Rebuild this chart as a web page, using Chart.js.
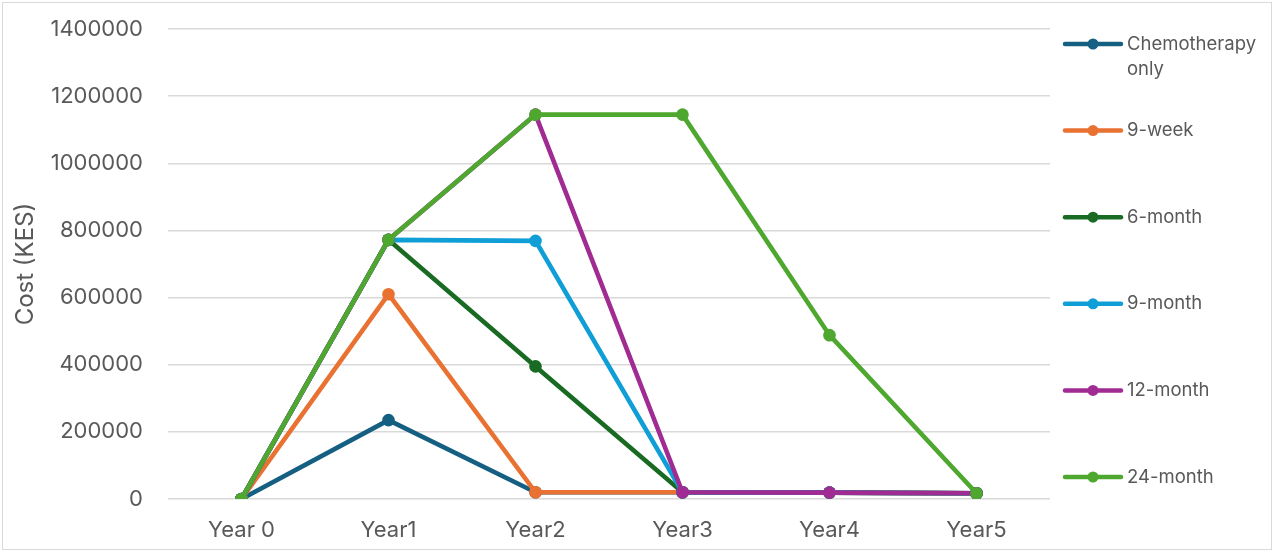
<!DOCTYPE html>
<html>
<head>
<meta charset="utf-8">
<script src="https://cdn.jsdelivr.net/npm/chart.js@4"></script>
<style>
  html, body { margin: 0; padding: 0; background: #fff; }
  #wrap { position: relative; width: 1280px; height: 559px; }
  #frame { position: absolute; left: 2px; top: 2px; width: 1268px; height: 546px; border: 1px solid #d9d9d9; pointer-events: none; }
</style>
</head>
<body>
<div id="wrap">
  <canvas id="c" width="1280" height="559"></canvas>
  <div id="frame"></div>
</div>
<script>
const categories = ["Year 0", "Year1", "Year2", "Year3", "Year4", "Year5"];
const seriesNames = ["Chemotherapy only", "9-week", "6-month", "9-month", "12-month", "24-month"];
const seriesColors = ["#156082", "#E97132", "#196B24", "#0F9ED5", "#A02B93", "#4EA72E"];
const chemoOnly = [0, 235000, 20000, 20000, 19000, 17000];
const nineWeek = [0, 610000, 20000, 20000, 19000, 17000];
const sixMonth = [0, 772000, 395000, 20000, 19000, 17000];
const nineMonth = [0, 772000, 769000, 20000, 19000, 17000];
const twelveMonth = [0, 772000, 1145000, 20000, 19000, 17000];
const twentyFourMonth = [0, 772000, 1145000, 1145000, 488000, 17000];
const seriesValues = [chemoOnly, nineWeek, sixMonth, nineMonth, twelveMonth, twentyFourMonth];
const yMin = 0, yMax = 1400000, yStep = 200000;

const FONT = "Inter, 'Open Sans', sans-serif";
const TEXT = "#595959";

const legendPlugin = {
  id: 'sideLegend',
  afterDraw(chart) {
    const ctx = chart.ctx;
    const ds = chart.data.datasets;
    const x0 = 1065, x1 = 1121, tx = 1127;
    const top = 44, gap = 86.6;
    ctx.save();
    ds.forEach((d, i) => {
      const y = top + i * gap;
      ctx.strokeStyle = d.borderColor;
      ctx.lineWidth = 4.5;
      ctx.lineCap = 'round';
      ctx.beginPath(); ctx.moveTo(x0, y); ctx.lineTo(x1, y); ctx.stroke();
      ctx.fillStyle = d.borderColor;
      ctx.beginPath(); ctx.arc((x0 + x1) / 2, y, 5.5, 0, Math.PI * 2); ctx.fill();
      ctx.fillStyle = TEXT;
      ctx.font = "18.5px " + FONT;
      ctx.textBaseline = 'middle';
      ctx.textAlign = 'left';
      const lines = d.label === "Chemotherapy only" ? ["Chemotherapy", "only"] : [d.label];
      lines.forEach((t, k) => ctx.fillText(t, tx, y + k * 25));
    });
    ctx.restore();
  }
};

new Chart(document.getElementById('c'), {
  type: 'line',
  data: {
    labels: categories,
    datasets: seriesValues.map((vals, i) => ({
      label: seriesNames[i],
      data: vals,
      borderColor: seriesColors[i],
      backgroundColor: seriesColors[i],
      pointBackgroundColor: seriesColors[i],
      pointBorderColor: seriesColors[i],
      borderWidth: 4.6,
      pointRadius: 6.3,
      pointBorderWidth: 0,
      tension: 0,
      order: seriesValues.length - i
    }))
  },
  options: {
    responsive: false,
    animation: false,
    devicePixelRatio: 1,
    layout: { padding: { left: 8, top: 29, right: 230, bottom: 14 } },
    plugins: { legend: { display: false }, tooltip: { enabled: false } },
    scales: {
      x: {
        offset: true,
        grid: { display: false, drawTicks: false },
        border: { display: false },
        ticks: { color: TEXT, font: { family: FONT, size: 22 }, padding: 18, maxRotation: 0 },
        afterFit(s) { s.height = 46; }
      },
      y: {
        min: yMin, max: yMax,
        ticks: { stepSize: yStep, color: TEXT, font: { family: FONT, size: 22 }, padding: 25,
                 callback: (v) => String(v) },
        grid: { color: '#d9d9d9', lineWidth: 1.5, drawTicks: false },
        border: { display: false },
        title: { display: true, text: 'Cost (KES)', color: TEXT, font: { family: FONT, size: 24 }, padding: { top: 3, bottom: 0 } },
        afterFit(s) { s.width = 160; s.paddingTop = 0; s.paddingBottom = 0; }
      }
    }
  },
  plugins: [legendPlugin]
});
</script>
</body>
</html>
